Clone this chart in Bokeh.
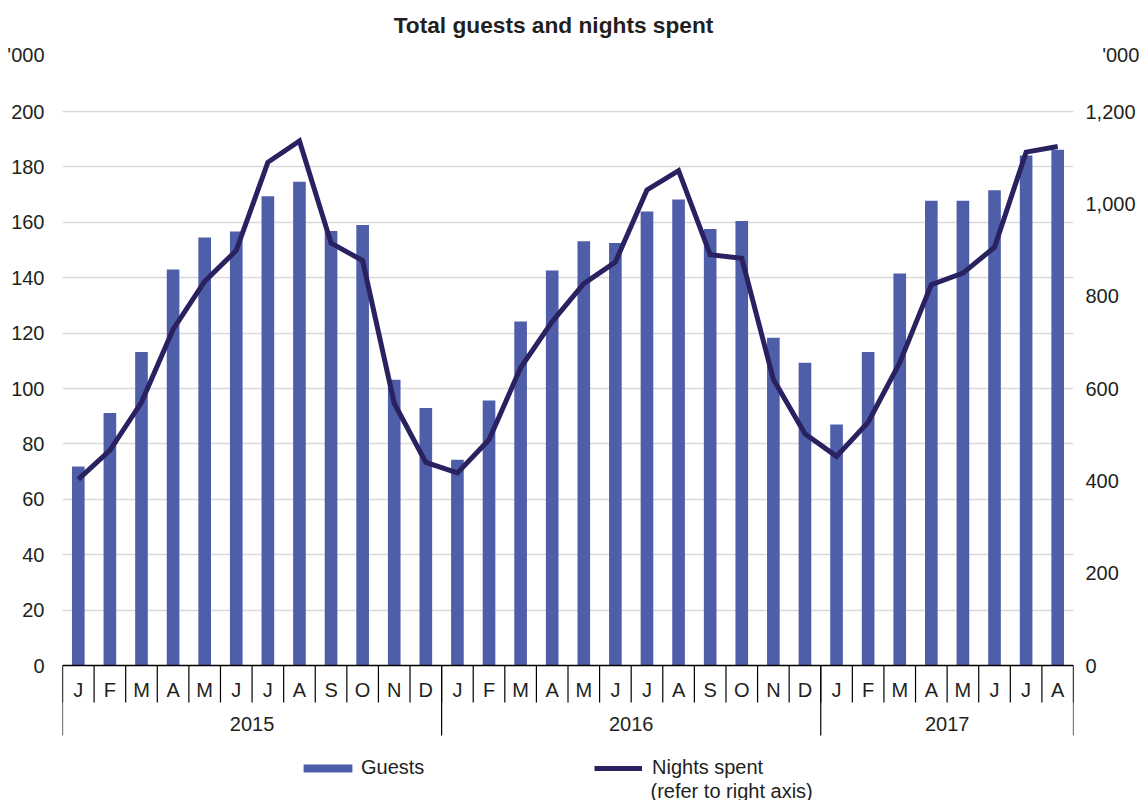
from bokeh.plotting import figure
from bokeh.models import (Range1d, LinearAxis, FixedTicker, NumeralTickFormatter, Legend,
                          LegendItem, Label, ColumnDataSource, Grid)
from bokeh.embed import file_html
from bokeh.resources import INLINE
from bokeh.core.properties import value

# ---------------- data ----------------
month_labels = ["J", "F", "M", "A", "M", "J", "J", "A", "S", "O", "N", "D",
                "J", "F", "M", "A", "M", "J", "J", "A", "S", "O", "N", "D",
                "J", "F", "M", "A", "M", "J", "J", "A"]
years = ["2015", "2016", "2017"]
months_per_year = [12, 12, 8]
guests = [71.8, 91.2, 113.2, 143.0, 154.5, 156.7, 169.4, 174.6, 156.9, 159.0, 103.2, 93.0,
          74.3, 95.7, 124.2, 142.6, 153.2, 152.5, 163.9, 168.2, 157.6, 160.5, 118.3, 109.3,
          87.0, 113.2, 141.5, 167.8, 167.8, 171.6, 184.1, 186.2]
nights = [403, 466, 570, 728, 832, 899, 1090, 1136, 915, 877, 568, 440,
          417, 489, 645, 745, 827, 874, 1030, 1072, 890, 882, 620, 502,
          453, 527, 656, 825, 850, 906, 1112, 1124]
left_ticks = list(range(0, 201, 20))
right_ticks = list(range(0, 1201, 200))
unit_label = "'000"

# ---------------- geometry (picture pixels; canvas observed at picture (0, 0)) ----------------
FONT = "Liberation Sans"
TXT = "#231f20"
BAR = "#4f5ea9"
LINE = "#2a2260"

OFF_X, OFF_Y = 0, 0
CANVAS_W, CANVAS_H = 1140, 800
FRAME_LEFT, FRAME_W = 62, 1011           # picture x of frame left, frame width
ZERO_PY, TOP_PY = 665, 111               # picture y of 0 and of 200 (left scale)
N = len(month_labels)
PX_PER_X = FRAME_W / N
PX_PER_Y = (ZERO_PY - TOP_PY) / 200.0
RATIO = 1200 / 200.0


def px_to_x(px):
    return -0.5 + (px - FRAME_LEFT) / PX_PER_X


def py_to_y(py):
    return (ZERO_PY - py) / PX_PER_Y


y_top = py_to_y(OFF_Y)
y_bottom = py_to_y(OFF_Y + CANVAS_H)
unit_y = round(py_to_y(55), 3)
unit_y_r = round(unit_y * RATIO, 3)

border_left = FRAME_LEFT - OFF_X
p = figure(width=CANVAS_W, height=CANVAS_H, frame_width=FRAME_W, frame_height=CANVAS_H,
           x_range=Range1d(-0.5, N - 0.5), y_range=Range1d(y_bottom, y_top),
           x_axis_location=None, y_axis_location=None,
           output_backend="svg", toolbar_location=None, tools="",
           min_border_left=border_left, min_border_top=0,
           min_border_right=CANVAS_W - border_left - FRAME_W, min_border_bottom=0)
p.outline_line_color = None
p.background_fill_color = "white"
p.border_fill_color = "white"
for g in p.grid:
    g.visible = False

p.extra_y_ranges = {"nights": Range1d(y_bottom * RATIO, y_top * RATIO)}

# grid
grid = Grid(dimension=1, ticker=FixedTicker(ticks=left_ticks[1:]),
            grid_line_color="#d9d9d9", grid_line_width=1.5)
p.add_layout(grid)

# axes (unit "'000" shown as a labelled tick above each scale)
left = LinearAxis(ticker=FixedTicker(ticks=left_ticks + [unit_y]),
                  major_label_overrides={unit_y: unit_label})
right = LinearAxis(y_range_name="nights", ticker=FixedTicker(ticks=right_ticks + [unit_y_r]),
                   formatter=NumeralTickFormatter(format="0,0"),
                   major_label_overrides={unit_y_r: "\u00a0\u00a0\u00a0" + unit_label})
for ax, so in ((left, 18), (right, 12)):
    ax.axis_line_color = None
    ax.major_tick_line_color = None
    ax.minor_tick_line_color = None
    ax.major_tick_out = 0
    ax.major_tick_in = 0
    ax.minor_tick_out = 0
    ax.minor_tick_in = 0
    ax.major_label_text_font = FONT
    ax.major_label_text_font_size = "20px"
    ax.major_label_text_color = TXT
    ax.major_label_standoff = so
p.add_layout(left, "left")
p.add_layout(right, "right")

# data marks
src = ColumnDataSource(dict(x=list(range(N)), guests=guests, nights=nights))
bars = p.vbar(x="x", top="guests", width=0.4, source=src, fill_color=BAR, line_color=None)
ln = p.line(x="x", y="nights", source=src, y_range_name="nights",
            line_color=LINE, line_width=5, line_join="miter")

# category axis (drawn)
p.segment(x0=[-0.5], y0=[0], x1=[N - 0.5], y1=[0], line_color="black", line_width=1.5)
seps = [i - 0.5 for i in range(N + 1)]
p.segment(x0=seps, y0=[0] * len(seps), x1=seps, y1=[py_to_y(702)] * len(seps),
          line_color="black", line_width=1.2)
bounds = [-0.5]
for c in months_per_year:
    bounds.append(bounds[-1] + c)
p.segment(x0=bounds, y0=[0] * len(bounds), x1=bounds, y1=[py_to_y(735)] * len(bounds),
          line_color="black", line_width=1.2)
p.text(x=list(range(N)), y=[py_to_y(689)] * N, text=month_labels,
       text_align="center", text_baseline="middle", text_font=value(FONT),
       text_font_size="20px", text_color=TXT)
year_centers = [(bounds[i] + bounds[i + 1]) / 2 for i in range(len(years))]
p.text(x=year_centers, y=[py_to_y(723)] * len(years), text=years,
       text_align="center", text_baseline="middle", text_font=value(FONT),
       text_font_size="20px", text_color=TXT)

# legends
common = dict(orientation="horizontal", padding=0, margin=0, border_line_color=None,
              background_fill_alpha=0, label_text_font=FONT, label_text_font_size="20px",
              label_text_color=TXT, glyph_height=10)
leg_y = (OFF_Y + CANVAS_H) - 767 - 12
lg1 = Legend(items=[LegendItem(label="Guests", renderers=[bars])],
             location=(297 - FRAME_LEFT, leg_y), glyph_width=61, label_standoff=3, **common)
lg2 = Legend(items=[LegendItem(label="Nights spent", renderers=[ln])],
             location=(594 - FRAME_LEFT, leg_y), glyph_width=48, label_standoff=10, **common)
p.add_layout(lg1)
p.add_layout(lg2)

# texts
p.add_layout(Label(x=px_to_x(553), y=py_to_y(24), text="Total guests and nights spent",
                   text_align="center", text_baseline="middle", text_font=FONT,
                   text_font_size="22.7px", text_font_style="bold", text_color=TXT))
p.add_layout(Label(x=px_to_x(650), y=py_to_y(790), text="(refer to right axis)",
                   text_align="left", text_baseline="middle", text_font=FONT,
                   text_font_size="20px", text_color=TXT))

open("out.html", "w").write(file_html(p, INLINE))
